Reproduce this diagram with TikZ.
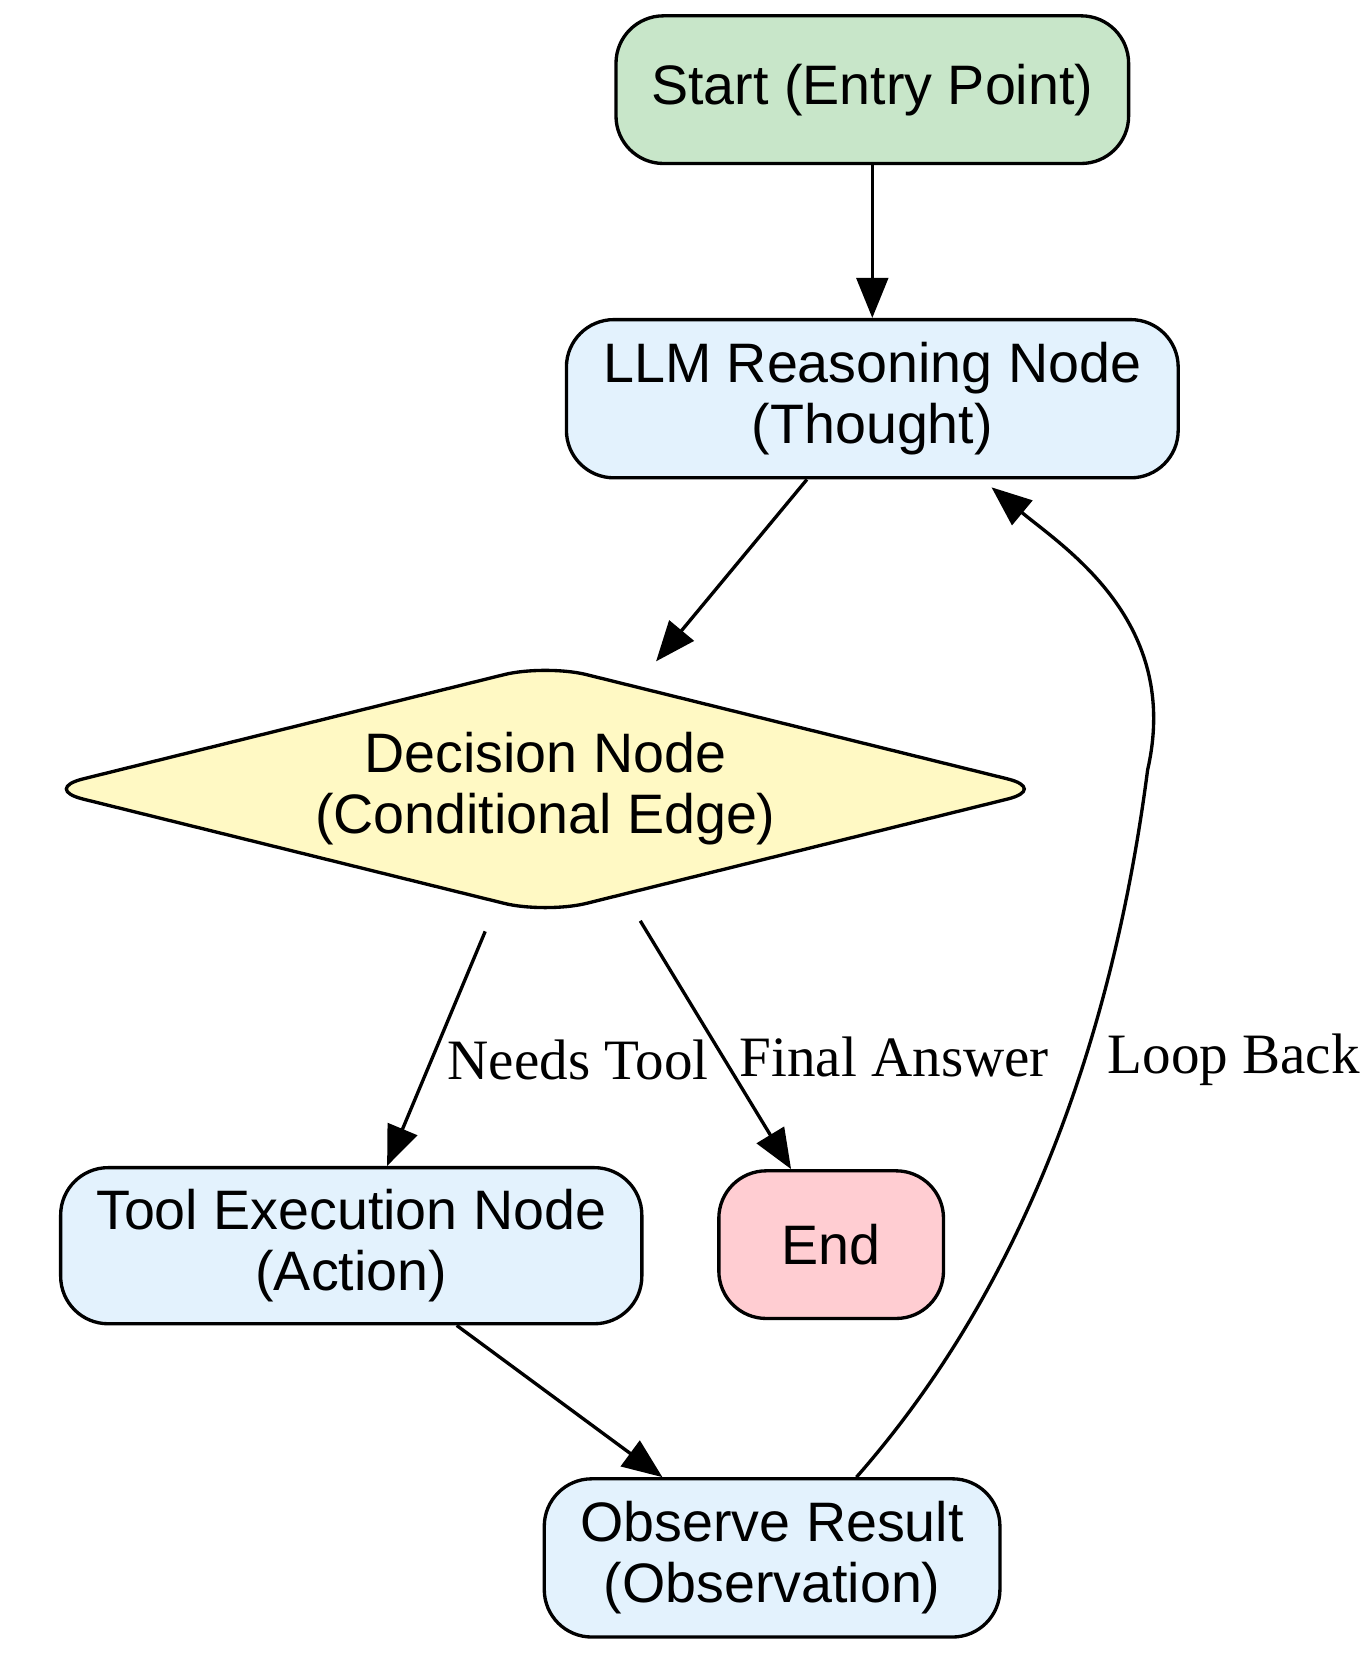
\documentclass[tikz,border=0pt]{standalone}
\usepackage{fontspec}
\setmainfont{Liberation Serif}
\setsansfont{Liberation Sans}
\usepackage{tikz}
\usetikzlibrary{shapes.geometric,arrows.meta}
\definecolor{startgreen}{HTML}{C8E6C9}
\definecolor{stepblue}{HTML}{E3F2FD}
\definecolor{decyellow}{HTML}{FFF9C4}
\definecolor{endpink}{HTML}{FFCDD2}

\begin{document}
\begin{tikzpicture}[>={Triangle[length=0.38cm,width=0.3cm]}, line width=0.9pt]
    \tikzstyle{stepbox} = [rectangle, draw, rounded corners=0.45cm, fill=stepblue, align=center, font=\sffamily\fontsize{15}{16.5}\selectfont, inner sep=0pt]
    \tikzstyle{decision} = [diamond, draw, aspect=3.35, rounded corners=0.4cm, fill=decyellow, align=center, font=\sffamily\fontsize{15}{16.5}\selectfont, inner sep=0pt]
    \tikzstyle{edgelabel} = [font=\fontsize{15.4}{17}\selectfont, inner sep=1pt]

    \useasboundingbox (0,0) rectangle (13.0,-15.70);

    % Nodes
    \node[stepbox, fill=startgreen, minimum width=4.86cm, minimum height=1.4cm] (start) at (8.27,-0.85) {Start (Entry Point)};
    \node[stepbox, minimum width=5.8cm, minimum height=1.5cm] (llm) at (8.27,-3.78) {LLM Reasoning Node\\(Thought)};
    \node[decision, minimum width=9.55cm] (decide) at (5.17,-7.48) {Decision Node\\(Conditional Edge)};
    \node[stepbox, minimum width=5.51cm, minimum height=1.48cm] (tool) at (3.33,-11.81) {Tool Execution Node\\(Action)};
    \node[stepbox, fill=endpink, minimum width=2.13cm, minimum height=1.4cm] (end) at (7.88,-11.80) {End};
    \node[stepbox, minimum width=4.32cm, minimum height=1.5cm] (observe) at (7.32,-14.77) {Observe Result\\(Observation)};

    % Edge ends
    \coordinate (llmout) at ([xshift=-0.62cm]llm.south);
    \coordinate (decin) at (6.22,-6.27);
    \coordinate (dtool) at (4.60,-8.83);
    \coordinate (tin) at ([xshift=0.34cm]tool.north);
    \coordinate (dend) at (6.07,-8.73);
    \coordinate (ein) at ([xshift=-0.38cm]end.north);
    \coordinate (tout) at ([xshift=1.0cm]tool.south);
    \coordinate (oin) at ([xshift=-1.04cm]observe.north);
    \coordinate (oout) at ([xshift=0.8cm]observe.north);
    \coordinate (loopmid) at (10.88,-7.3);
    \coordinate (llmin) at (9.40,-4.62);

    % Edges
    \draw[->] (start) -- (llm);
    \draw[->] (llmout) -- (decin);
    \draw[->] (dtool) -- (tin) node[edgelabel, pos=0.55, right=3pt] {Needs Tool};
    \draw[->] (dend) -- (ein) node[edgelabel, pos=0.55, right=3pt] {Final Answer};
    \draw[->] (tout) -- (oin);
    \draw[->] (oout) .. controls (9.0,-13.0) and (10.4,-11.0) .. (loopmid)
        .. controls (11.2,-5.9) and (10.1,-5.2) .. (llmin);
    \node[edgelabel, anchor=west] (looplbl) at (10.45,-10.05) {Loop Back};
\end{tikzpicture}
\end{document}
